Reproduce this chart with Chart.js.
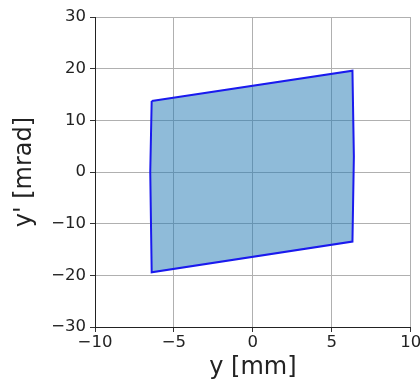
<!DOCTYPE html>
<html>
<head>
<meta charset="utf-8">
<script src="https://cdn.jsdelivr.net/npm/chart.js@4/dist/chart.umd.min.js"></script>
<style>
  html, body { margin: 0; padding: 0; background: #fff; }
  #wrap { width: 420px; height: 382px; }
</style>
</head>
<body>
<div id="wrap"><canvas id="c" width="420" height="382"></canvas></div>
<script>
// phase space boundary (y [mm], y' [mrad]), closed polygon
const yPos = [-6.41, 6.31, 6.40, 6.31, -6.41, -6.50, -6.41];
const yAng = [13.75, 19.6, 3.0, -13.46, -19.4, 0.0, 13.75];
const xTicks = [-10, -5, 0, 5, 10];
const yTicks = [-30, -20, -10, 0, 10, 20, 30];

const FONT = "'DejaVu Sans', sans-serif";
const minus = v => String(v).replace('-', '\u2212');

let pts = yPos.map((x, i) => ({ x: x, y: yAng[i] }));

new Chart(document.getElementById('c'), {
  type: 'scatter',
  data: { datasets: [{
    data: pts, showLine: true, fill: 'shape',
    borderColor: '#1a1aee', borderWidth: 2, backgroundColor: 'rgba(31,119,180,0.5)',
    pointRadius: 0, tension: 0
  }] },
  options: {
    responsive: false, animation: false,
    layout: { padding: { top: 17, right: 9.3, left: 13, bottom: 0 } },
    plugins: { legend: { display: false }, tooltip: { enabled: false } },
    scales: {
      x: {
        min: -10, max: 10,
        afterBuildTicks: s => { s.ticks = xTicks.map(v => ({ value: v })); },
        afterFit: s => { s.height = 55; s.paddingLeft = 0; s.paddingRight = 0; },
        ticks: { callback: minus, color: '#222', font: { family: FONT, size: 16.5 }, padding: 1, maxRotation: 0 },
        grid: { color: '#b0b0b0', tickColor: '#333', tickLength: 5 },
        border: { color: '#222', width: 1 },
        title: { display: true, text: 'y [mm]', color: '#222', font: { family: FONT, size: 24, lineHeight: 1 }, padding: { top: 0, bottom: 2 } }
      },
      y: {
        min: -30, max: 30,
        afterBuildTicks: s => { s.ticks = yTicks.map(v => ({ value: v })); },
        afterFit: s => { s.width = 82; s.paddingTop = 0; s.paddingBottom = 0; },
        ticks: { callback: minus, color: '#222', font: { family: FONT, size: 16.5 }, padding: 4 },
        grid: { color: '#b0b0b0', tickColor: '#333', tickLength: 5 },
        border: { color: '#222', width: 1 },
        title: { display: true, text: "y' [mrad]", color: '#222', font: { family: FONT, size: 24, lineHeight: 1 }, padding: { top: 0, bottom: 0 } }
      }
    }
  }
});
</script>
</body>
</html>
